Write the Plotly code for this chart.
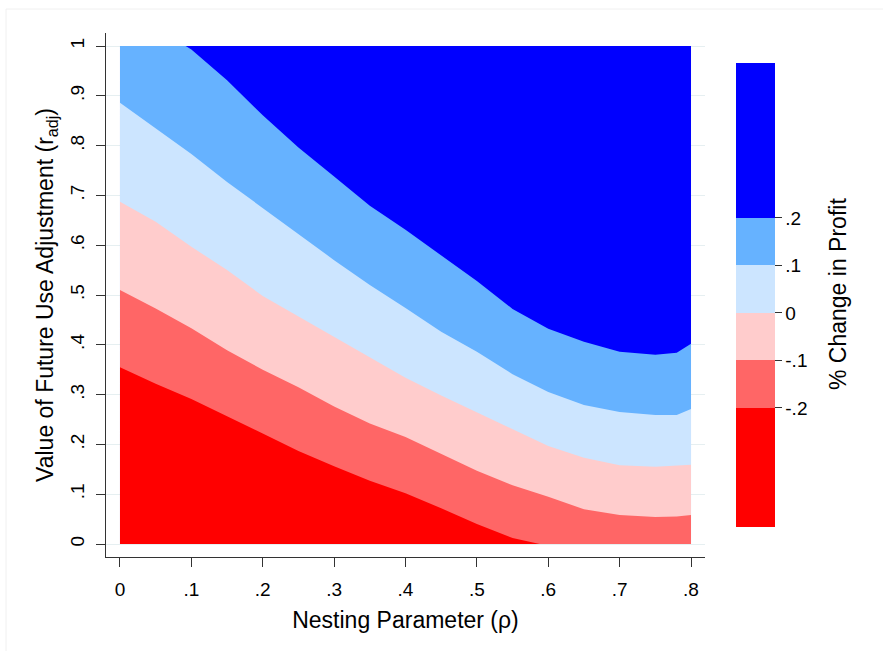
import plotly.graph_objects as go

# ---------------- data ----------------
# domain of the parameter grid
rho_domain = [0.0, 0.8]
r_domain_top = [1.0, 1.0]

# contour level boundaries: r_adj value of each level line along rho
rho_lvl_p20 = [0.0, 0.092, 0.10, 0.15, 0.20, 0.25, 0.30, 0.35, 0.40, 0.45, 0.50,
               0.55, 0.60, 0.65, 0.70, 0.75, 0.78, 0.80]
r_lvl_p20 = [1.0, 1.0, 0.993, 0.931, 0.861, 0.796, 0.738, 0.679, 0.631, 0.580, 0.528,
             0.472, 0.432, 0.406, 0.386, 0.380, 0.384, 0.402]

rho_lvl = [0.0, 0.05, 0.10, 0.15, 0.20, 0.25, 0.30, 0.35, 0.40, 0.45, 0.50,
           0.55, 0.60, 0.65, 0.70, 0.75, 0.78, 0.80]
r_lvl_p10 = [0.886, 0.835, 0.783, 0.727, 0.675, 0.622, 0.570, 0.520, 0.474, 0.426, 0.386,
             0.341, 0.305, 0.279, 0.265, 0.259, 0.259, 0.271]
r_lvl_0 = [0.687, 0.647, 0.597, 0.550, 0.498, 0.457, 0.416, 0.375, 0.334, 0.298, 0.264,
           0.231, 0.197, 0.173, 0.158, 0.155, 0.157, 0.159]
r_lvl_m10 = [0.510, 0.473, 0.433, 0.389, 0.350, 0.315, 0.276, 0.242, 0.215, 0.181, 0.147,
             0.118, 0.095, 0.070, 0.058, 0.054, 0.055, 0.058]

rho_lvl_m20 = [0.0, 0.05, 0.10, 0.15, 0.20, 0.25, 0.30, 0.35, 0.40, 0.45, 0.50, 0.55, 0.588]
r_lvl_m20 = [0.355, 0.322, 0.291, 0.257, 0.222, 0.187, 0.156, 0.127, 0.102, 0.072, 0.040, 0.012, 0.0]

# range of % change in profit over the grid
z_min = -0.4505
z_max = 0.526
levels = [-0.2, -0.1, 0.0, 0.1, 0.2]
level_labels = ["-.2", "-.1", "0", ".1", ".2"]

x_ticks = [0, 0.1, 0.2, 0.3, 0.4, 0.5, 0.6, 0.7, 0.8]
x_ticktext = ["0", ".1", ".2", ".3", ".4", ".5", ".6", ".7", ".8"]
y_ticks = [0, 0.1, 0.2, 0.3, 0.4, 0.5, 0.6, 0.7, 0.8, 0.9, 1.0]
y_ticktext = ["0", ".1", ".2", ".3", ".4", ".5", ".6", ".7", ".8", ".9", "1"]

# band colours from highest to lowest
band_colors = ["#0000FF", "#66B2FF", "#CCE5FF", "#FFCCCC", "#FF6666", "#FF0000"]

# ---------------- figure ----------------
FONT = "Liberation Sans, Arial, sans-serif"
W, H = 883, 651
ML, MR, MT, MB = 106, 178, 33, 94
PW, PH = W - ML - MR, H - MT - MB


def px_x(px):
    return (px - ML) / PW


def px_y(py):
    return (H - MB - py) / PH


fig = go.Figure()

bands = [
    (rho_domain, r_domain_top, band_colors[0]),
    (rho_lvl_p20, r_lvl_p20, band_colors[1]),
    (rho_lvl, r_lvl_p10, band_colors[2]),
    (rho_lvl, r_lvl_0, band_colors[3]),
    (rho_lvl, r_lvl_m10, band_colors[4]),
    (rho_lvl_m20, r_lvl_m20, band_colors[5]),
]
for xs, ys, col in bands:
    fig.add_trace(go.Scatter(x=xs, y=ys, mode="lines", fill="tozeroy",
                             fillcolor=col, line=dict(width=0, color=col),
                             hoverinfo="skip", showlegend=False))

# discrete colour scale for the colour bar
span = z_max - z_min
stops = [0.0] + [(v - z_min) / span for v in levels] + [1.0]
cols_low_to_high = band_colors[::-1]
colorscale = []
for i, c in enumerate(cols_low_to_high):
    colorscale.append([stops[i], c])
    colorscale.append([stops[i + 1], c])

fig.add_trace(go.Scatter(
    x=[rho_domain[0], rho_domain[0]], y=[0, 0], mode="markers",
    marker=dict(size=1, opacity=0, color=[z_min, z_max], cmin=z_min, cmax=z_max,
                colorscale=colorscale, showscale=True,
                colorbar=dict(
                    x=px_x(736), xanchor="left", xpad=0,
                    y=px_y(295), yanchor="middle", ypad=0,
                    len=464, lenmode="pixels", thickness=39, thicknessmode="pixels",
                    outlinewidth=0, ticks="outside", ticklen=7, tickcolor="#333",
                    tickvals=levels, ticktext=level_labels,
                    tickfont=dict(size=19, color="black", family=FONT),
                )),
    hoverinfo="skip", showlegend=False))

fig.update_layout(
    width=W, height=H,
    margin=dict(l=ML, r=MR, t=MT, b=MB),
    paper_bgcolor="white", plot_bgcolor="white",
    font=dict(family=FONT, color="black", size=19),
    xaxis=dict(range=[-0.0196, 0.8196], showgrid=False, zeroline=False,
               showline=True, linecolor="#333", linewidth=1,
               ticks="outside", ticklen=9, tickcolor="#333",
               tickvals=x_ticks, ticktext=x_ticktext,
               tickfont=dict(size=19), ticklabelstandoff=6,
               title=dict(text="Nesting Parameter (ρ)", font=dict(size=23), standoff=13)),
    yaxis=dict(range=[-0.0261, 1.0261], showgrid=True, gridcolor="#E6EFF1", gridwidth=1,
               zeroline=False, showline=True, linecolor="#333", linewidth=1,
               ticks="outside", ticklen=9, tickcolor="#333",
               tickvals=y_ticks, ticktext=y_ticktext, tickangle=-90,
               tickfont=dict(size=19), ticklabelstandoff=4,
               title=dict(text="Value of Future Use Adjustment (r<sub>adj</sub>)",
                          font=dict(size=23), standoff=7)),
    annotations=[dict(text="% Change in Profit", textangle=-90,
                      xref="paper", yref="paper", x=px_x(838), y=px_y(294),
                      xanchor="center", yanchor="middle", showarrow=False,
                      font=dict(size=23, color="black", family=FONT))],
    shapes=[dict(type="rect", xref="paper", yref="paper",
                 x0=px_x(6), x1=px_x(895), y0=px_y(660), y1=px_y(9),
                 line=dict(color="#F0F0F0", width=1), fillcolor="rgba(0,0,0,0)",
                 layer="below")],
)

fig.write_html("out.html")
